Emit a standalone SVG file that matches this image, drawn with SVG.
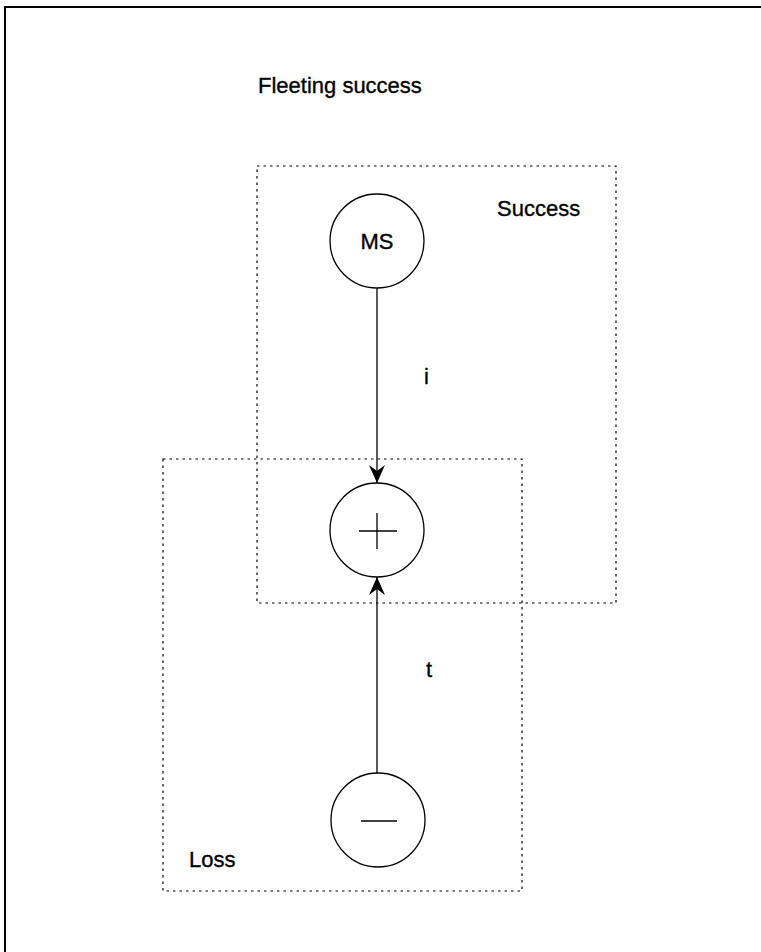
<svg xmlns="http://www.w3.org/2000/svg" width="761" height="952" viewBox="0 0 761 952">
<style>
.lbl{font-family:"Liberation Sans",Arial,sans-serif;font-size:22px;fill:#000;stroke:#000;stroke-width:0.35}
.box{fill:none;stroke:#000;stroke-width:1.2;stroke-dasharray:2.5 4}
.node{fill:#fff;stroke:#000;stroke-width:1.3}
.edge{stroke:#000;stroke-width:1.3;fill:none}
</style>
<defs>
<marker id="ah" viewBox="0 0 18 16" refX="18" refY="8" markerWidth="18" markerHeight="16" markerUnits="userSpaceOnUse" orient="auto">
<path d="M0,0 L18,8 L0,16 L6,8 Z" fill="#000"/>
</marker>
</defs>
<rect width="761" height="952" fill="#fff"/>
<rect x="5" y="7" width="780" height="980" fill="none" stroke="#000" stroke-width="2"/>
<text class="lbl" x="258" y="93">Fleeting success</text>
<g id="success">
<rect class="box" x="257" y="166" width="359" height="437"/>
<text class="lbl" x="497" y="216">Success</text>
</g>
<g id="loss">
<rect class="box" x="163" y="459" width="359" height="432"/>
<text class="lbl" x="189" y="867">Loss</text>
</g>
<g id="connectors">
<line class="edge" x1="377" y1="288" x2="377" y2="483" marker-end="url(#ah)"/>
<line class="edge" x1="377" y1="773" x2="377" y2="577" marker-end="url(#ah)"/>
<text class="lbl" x="424" y="384">i</text>
<text class="lbl" x="426" y="677">t</text>
</g>
<g id="MS">
<circle class="node" cx="377" cy="241" r="47"/>
<text class="lbl" x="377" y="249" text-anchor="middle">MS</text>
</g>
<g id="plus">
<circle class="node" cx="377" cy="530" r="47"/>
<line class="edge" x1="359" y1="531" x2="397" y2="531"/>
<line class="edge" x1="377" y1="513" x2="377" y2="549"/>
</g>
<g id="minus">
<circle class="node" cx="378" cy="820" r="47"/>
<line class="edge" x1="361" y1="821" x2="397" y2="821" stroke-width="1"/>
</g>
</svg>
